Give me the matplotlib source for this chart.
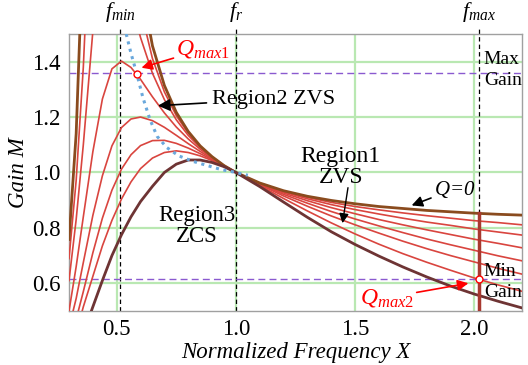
import numpy as np
import matplotlib
matplotlib.use("Agg")
import matplotlib.pyplot as plt

plt.rcParams['font.family'] = ['Liberation Serif', 'DejaVu Serif']
plt.rcParams['mathtext.fontset'] = 'custom'
plt.rcParams['mathtext.rm'] = 'Liberation Serif'
plt.rcParams['mathtext.it'] = 'Liberation Serif:italic'

nan = np.nan

# normalized frequency samples (shared by all gain curves)
freq_x = [0.30, 0.33, 0.36, 0.40, 0.44, 0.48, 0.52, 0.56, 0.60, 0.65, 0.70, 0.75, 0.80, 0.85, 0.90,
          0.95, 1.00, 1.10, 1.20, 1.30, 1.40, 1.50, 1.60, 1.70, 1.80, 1.90, 2.00, 2.10, 2.20]

# gain curves, light load (Q=0) -> heavy load
gain_q0 = [0.758, 1.140, 1.852, nan, nan, nan, nan, 2.008, 1.689, 1.457, 1.314, 1.217, 1.148, 1.096, 1.057,
           1.025, 1.000, 0.962, 0.934, 0.914, 0.899, 0.887, 0.877, 0.870, 0.863, 0.858, 0.853, 0.849, 0.846]
gain_q1 = [0.689, 0.971, 1.380, 2.142, 2.710, 2.520, 2.114, 1.802, 1.590, 1.411, 1.291, 1.205, 1.142, 1.093, 1.056,
           1.025, 1.000, 0.961, 0.932, 0.910, 0.892, 0.877, 0.865, 0.854, 0.844, 0.835, 0.826, 0.819, 0.811]
gain_q2 = [0.610, 0.830, 1.100, 1.510, 1.813, 1.870, 1.762, 1.616, 1.487, 1.358, 1.263, 1.190, 1.134, 1.090, 1.055,
           1.025, 1.000, 0.960, 0.930, 0.905, 0.884, 0.866, 0.850, 0.835, 0.821, 0.809, 0.796, 0.785, 0.774]
gain_q3 = [0.500, 0.660, 0.840, 1.075, 1.265, 1.374, 1.402, 1.379, 1.336, 1.273, 1.215, 1.164, 1.121, 1.084, 1.052,
           1.024, 1.000, 0.959, 0.926, 0.898, 0.873, 0.851, 0.830, 0.811, 0.793, 0.776, 0.759, 0.744, 0.728]
gain_q4 = [0.440, 0.545, 0.675, 0.845, 0.988, 1.096, 1.162, 1.193, 1.200, 1.187, 1.163, 1.134, 1.104, 1.076, 1.049,
           1.024, 1.000, 0.958, 0.921, 0.889, 0.859, 0.832, 0.807, 0.783, 0.760, 0.739, 0.719, 0.699, 0.681]
gain_q5 = [0.400, 0.470, 0.570, 0.710, 0.835, 0.936, 1.012, 1.064, 1.097, 1.115, 1.116, 1.105, 1.088, 1.068, 1.046,
           1.023, 1.000, 0.956, 0.915, 0.878, 0.843, 0.811, 0.781, 0.752, 0.725, 0.700, 0.677, 0.654, 0.633]
gain_q6 = [0.360, 0.420, 0.515, 0.625, 0.735, 0.827, 0.904, 0.966, 1.014, 1.052, 1.072, 1.078, 1.072, 1.060, 1.043,
           1.022, 1.000, 0.953, 0.906, 0.861, 0.818, 0.778, 0.741, 0.707, 0.676, 0.647, 0.619, 0.594, 0.571]
gain_q7 = [0.300, 0.360, 0.420, 0.515, 0.610, 0.700, 0.775, 0.840, 0.895, 0.950, 1.000, 1.030, 1.045, 1.045, 1.036,
           1.021, 1.000, 0.949, 0.893, 0.838, 0.786, 0.740, 0.698, 0.659, 0.623, 0.590, 0.561, 0.535, 0.511]

# ZVS / ZCS boundary (blue dotted)
boundary_x = [0.54, 0.56, 0.584, 0.61, 0.64, 0.67, 0.71, 0.76, 0.82, 0.88, 0.94, 1.00, 1.05]
boundary_m = [1.50, 1.43, 1.357, 1.27, 1.19, 1.13, 1.09, 1.06, 1.04, 1.025, 1.01, 1.00, 0.99]

f_min, f_r, f_max = 0.515, 1.0, 2.02
max_gain, min_gain = 1.36, 0.615
qmax1_pt = (0.584, 1.357)
qmax2_pt = (2.02, 0.615)

xticks = [0.5, 1.0, 1.5, 2.0]
yticks = [0.6, 0.8, 1.0, 1.2, 1.4]

fig = plt.figure(figsize=(5.28, 3.65), dpi=100)
ax = fig.add_axes([0.1307, 0.148, 0.858, 0.759])
ax.set_xlim(0.3, 2.2)
ax.set_ylim(0.5, 1.5)

for v in xticks:
    ax.axvline(v, color='#b9e8b2', lw=1.6, zorder=0)
for v in yticks:
    ax.axhline(v, color='#b9e8b2', lw=1.6, zorder=0)

red_curves = [gain_q1, gain_q2, gain_q3, gain_q4, gain_q5, gain_q6]
for m in red_curves:
    ax.plot(freq_x, m, color='#d9453f', lw=1.2, zorder=3)
ax.plot(freq_x, gain_q0, color='#8a4b1e', lw=2.0, zorder=3)
ax.plot(freq_x, gain_q7, color='#6e3434', lw=2.0, zorder=3)

ax.plot(boundary_x, boundary_m, color='#6aa8dc', lw=2.2, ls=(0, (1, 1.5)), zorder=4)

# f_max vertical limit
ax.plot([f_max, f_max], [0.5, gain_q0[-4] - 0.005], color='#a8392f', lw=2.5, zorder=3)

for fx in (f_min, f_r, f_max):
    ax.plot([fx, fx], [0.5, 1.525], color='black', lw=0.9, ls=(0, (3.5, 2.5)), clip_on=False, zorder=2)

ax.axhline(max_gain, color='#8a5ad0', lw=1.0, ls=(0, (5, 3)), zorder=2)
ax.axhline(min_gain, color='#8a5ad0', lw=1.0, ls=(0, (5, 3)), zorder=2)

ax.plot(*qmax1_pt, 'o', ms=5, mfc='white', mec='red', mew=1.0, zorder=5)
ax.plot(*qmax2_pt, 'o', ms=5, mfc='white', mec='red', mew=1.0, zorder=5)

ax.text(f_min, 1.535, r'$f_{min}$', ha='center', va='bottom', fontsize=16)
ax.text(f_r, 1.535, r'$f_r$', ha='center', va='bottom', fontsize=16)
ax.text(f_max, 1.535, r'$f_{max}$', ha='center', va='bottom', fontsize=16)

ax.annotate(r'$Q_{max1}$', xy=(0.604, 1.378), xytext=(0.75, 1.445), color='red', fontsize=17,
            va='center', ha='left',
            arrowprops=dict(arrowstyle='-|>', color='red', lw=1.2, mutation_scale=16, shrinkA=0, shrinkB=0))
ax.annotate(r'$Q_{max2}$', xy=(1.975, 0.60), xytext=(1.52, 0.548), color='red', fontsize=17,
            va='center', ha='left',
            arrowprops=dict(arrowstyle='-|>', color='red', lw=1.2, mutation_scale=16, shrinkA=0, shrinkB=0))
ax.annotate('Region2 ZVS', xy=(0.673, 1.241), xytext=(0.9, 1.265), fontsize=16, va='center', ha='left',
            arrowprops=dict(arrowstyle='-|>', color='black', lw=1.2, mutation_scale=18, shrinkA=2, shrinkB=0))
ax.text(1.44, 1.02, 'Region1\nZVS', ha='center', va='center', fontsize=17, linespacing=1.0)
ax.annotate('', xy=(1.447, 0.817), xytext=(1.47, 0.945),
            arrowprops=dict(arrowstyle='-|>', color='black', lw=1.0, mutation_scale=14, shrinkA=0, shrinkB=0))
ax.text(0.835, 0.805, 'Region3\nZCS', ha='center', va='center', fontsize=16.5, linespacing=1.0)
ax.annotate(r'$Q$=0', xy=(1.737, 0.881), xytext=(1.83, 0.94), fontsize=15, va='center', ha='left',
            style='italic',
            arrowprops=dict(arrowstyle='-|>', color='black', lw=1.2, mutation_scale=16, shrinkA=0, shrinkB=0))
ax.text(2.04, 1.37, 'Max\nGain', ha='left', va='center', fontsize=14, linespacing=1.25)
ax.text(2.04, 0.605, 'Min\nGain', ha='left', va='center', fontsize=14, linespacing=1.3)

ax.set_xticks(xticks)
ax.set_yticks(yticks)
ax.set_xticklabels(['%.1f' % v for v in xticks])
ax.set_yticklabels(['%.1f' % v for v in yticks])
ax.tick_params(length=0, labelsize=16.5, pad=6)
ax.set_xlabel('Normalized Frequency X', style='italic', fontsize=16.5, labelpad=1)
ax.set_ylabel('Gain M', style='italic', fontsize=16.5, labelpad=2)
for s in ax.spines.values():
    s.set_color('#a0a0a0')
    s.set_linewidth(1.0)

fig.savefig('out.png', dpi=100)
